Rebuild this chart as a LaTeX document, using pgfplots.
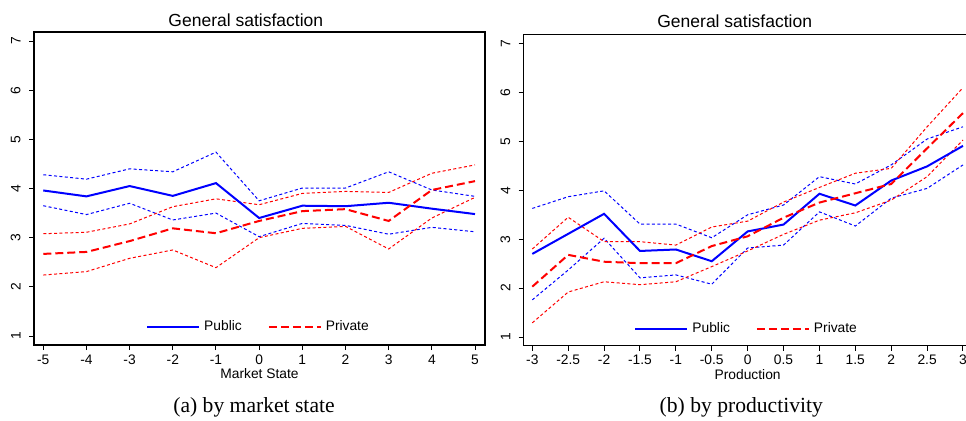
\documentclass[border=0pt]{standalone}
\usepackage{pgfplots}
\usepackage{pgfplotstable}
\pgfplotsset{compat=1.18}
\usepackage{fontspec}
\setmainfont{Liberation Sans}
\newfontfamily\capfont{Liberation Serif}
\definecolor{rblue}{RGB}{0,0,255}
\definecolor{rred}{RGB}{255,0,0}

\pgfplotstableread{
x pub publo pubhi pri prilo prihi
-5 3.96 3.65 4.28 2.67 2.24 3.08
-4 3.84 3.47 4.19 2.71 2.31 3.11
-3 4.05 3.70 4.40 2.93 2.58 3.28
-2 3.85 3.36 4.34 3.19 2.75 3.63
-1 4.11 3.50 4.74 3.09 2.39 3.79
0 3.40 3.02 3.75 3.34 3.00 3.67
1 3.65 3.29 4.01 3.54 3.19 3.90
2 3.64 3.25 4.01 3.58 3.23 3.94
3 3.71 3.07 4.34 3.34 2.77 3.92
4 3.59 3.21 3.97 3.97 3.40 4.31
5 3.48 3.12 3.84 4.15 3.82 4.48
}\marketdata

\pgfplotstableread{
x pub publo pubhi pri prilo prihi
-3 2.70 1.76 3.63 2.03 1.29 2.80
-2.5 3.11 2.37 3.87 2.68 1.92 3.45
-2 3.52 3.02 3.99 2.54 2.13 2.95
-1.5 2.76 2.21 3.31 2.51 2.07 2.95
-1 2.79 2.27 3.31 2.51 2.13 2.88
-0.5 2.55 2.08 3.03 2.86 2.44 3.25
0 3.16 2.82 3.50 3.06 2.76 3.37
0.5 3.30 2.88 3.70 3.44 3.10 3.76
1 3.93 3.56 4.28 3.75 3.39 4.06
1.5 3.69 3.27 4.13 3.94 3.54 4.35
2 4.20 3.84 4.52 4.13 3.80 4.45
2.5 4.49 4.04 5.05 4.86 4.28 5.30
3 4.91 4.52 5.30 5.58 5.03 6.10
}\proddata

\pgfplotsset{
  rpanel/.style={
    scale only axis,
    axis line style={line width=0.6pt},
    tick style={line width=0.5pt, black},
    major tick length=2.5pt,
    tick align=outside,
    xtick pos=bottom, ytick pos=left,
    ytick={1,2,3,4,5,6,7},
    yticklabels={1,2,3,4,5,6,7},
    tick label style={font=\fontsize{6.9}{8}\selectfont},
    yticklabel style={rotate=90, anchor=south, inner sep=0pt, yshift=4pt},
    xticklabel style={anchor=base, inner sep=0pt, yshift=-7pt},
    x label style={at={(axis description cs:0.5,0)}, anchor=base, yshift=-16.75pt, font=\fontsize{6.9}{8}\selectfont},
    legend columns=2,
    legend style={draw=none, fill=none, anchor=center, font=\fontsize{6.9}{8}\selectfont,
      /tikz/every even column/.append style={column sep=11pt},
      cells={anchor=west}},
    legend image code/.code={\draw[#1] (0pt,0pt) -- (26pt,0pt);},
    pubmain/.style={rblue, line width=1pt},
    primain/.style={rred, line width=1pt, dash pattern=on 4pt off 2pt},
    pubci/.style={rblue, line width=0.5pt, dash pattern=on 1.5pt off 1.2pt},
    prici/.style={rred, line width=0.5pt, dash pattern=on 1.5pt off 1.2pt},
  }
}

\begin{document}
\begin{tikzpicture}
\path[use as bounding box] (0pt,0pt) rectangle (483pt,210pt);
\clip (0pt,0pt) rectangle (483pt,210pt);

% Panel (a)
\begin{axis}[rpanel,
  at={(17pt,37.5pt)}, anchor=south west,
  width=225.5pt, height=156.5pt,
  xmin=-5.215, xmax=5.231, ymin=0.817, ymax=7.183,
  xtick={-5,-4,-3,-2,-1,0,1,2,3,4,5},
  xticklabels={-5,-4,-3,-2,-1,0,1,2,3,4,5},
  xlabel={Market State},
  legend style={at={(0.5,0.0575)}},
]
\addplot[pubci, forget plot] table[x=x, y=publo] {\marketdata};
\addplot[pubci, forget plot] table[x=x, y=pubhi] {\marketdata};
\addplot[prici, forget plot] table[x=x, y=prilo] {\marketdata};
\addplot[prici, forget plot] table[x=x, y=prihi] {\marketdata};
\addplot[pubmain] table[x=x, y=pub] {\marketdata};
\addplot[primain] table[x=x, y=pri] {\marketdata};
\legend{Public, Private}
\end{axis}

% Panel (b)
\begin{axis}[rpanel,
  at={(261.85pt,37.15pt)}, anchor=south west,
  width=223.95pt, height=155.7pt,
  xmin=-3.12, xmax=3.12, ymin=0.822, ymax=7.192,
  xtick={-3,-2.5,-2,-1.5,-1,-0.5,0,0.5,1,1.5,2,2.5,3},
  xticklabels={-3,-2.5,-2,-1.5,-1,-0.5,0,0.5,1,1.5,2,2.5,3},
  xlabel={Production},
  legend style={at={(0.5,0.054)}},
]
\addplot[pubci, forget plot] table[x=x, y=publo] {\proddata};
\addplot[pubci, forget plot] table[x=x, y=pubhi] {\proddata};
\addplot[prici, forget plot] table[x=x, y=prilo] {\proddata};
\addplot[prici, forget plot] table[x=x, y=prihi] {\proddata};
\addplot[pubmain] table[x=x, y=pub] {\proddata};
\addplot[primain] table[x=x, y=pri] {\proddata};
\legend{Public, Private}
\end{axis}

% Titles
\node[anchor=base, font=\fontsize{8.75}{10}\selectfont] at (122.9pt,197pt) {General satisfaction};
\node[anchor=base, font=\fontsize{8.75}{10}\selectfont] at (367.35pt,196.15pt) {General satisfaction};
% Captions
\node[anchor=base, font=\capfont\fontsize{10.8}{12}\selectfont] at (127pt,4pt) {(a) by market state};
\node[anchor=base, font=\capfont\fontsize{10.8}{12}\selectfont] at (370.65pt,4pt) {(b) by productivity};
\end{tikzpicture}
\end{document}
